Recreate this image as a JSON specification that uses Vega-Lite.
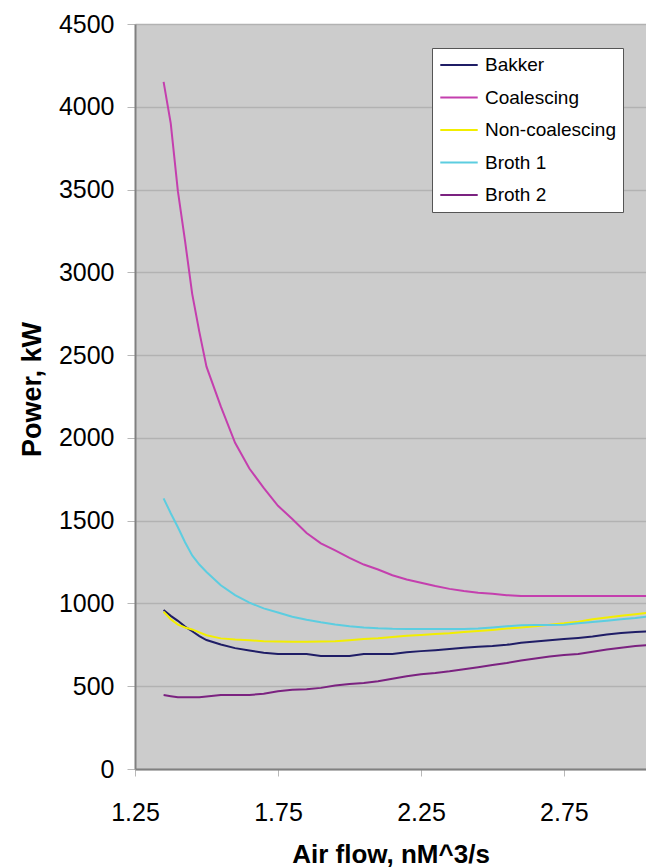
{
  "$schema": "https://vega.github.io/schema/vega-lite/v6.json",
  "width": 511,
  "height": 745,
  "autosize": {"type": "none"},
  "padding": {"left": 135, "top": 24, "right": 0, "bottom": 99},
  "background": "white",
  "config": {
    "font": "Liberation Sans",
    "view": {"fill": "#cccccc", "stroke": null}
  },
  "data": {
    "values": [
      {"x": 1.35, "Bakker": 960, "Coalescing": 4150, "Non-coalescing": 950, "Broth 1": 1635, "Broth 2": 447},
      {"x": 1.375, "Bakker": 925, "Coalescing": 3900, "Non-coalescing": 905, "Broth 1": 1545, "Broth 2": 440},
      {"x": 1.4, "Bakker": 895, "Coalescing": 3490, "Non-coalescing": 872, "Broth 1": 1460, "Broth 2": 433},
      {"x": 1.425, "Bakker": 860, "Coalescing": 3190, "Non-coalescing": 855, "Broth 1": 1370, "Broth 2": 433},
      {"x": 1.45, "Bakker": 832, "Coalescing": 2870, "Non-coalescing": 843, "Broth 1": 1290, "Broth 2": 433},
      {"x": 1.475, "Bakker": 803, "Coalescing": 2640, "Non-coalescing": 825, "Broth 1": 1235, "Broth 2": 433},
      {"x": 1.5, "Bakker": 779, "Coalescing": 2430, "Non-coalescing": 808, "Broth 1": 1190, "Broth 2": 438},
      {"x": 1.55, "Bakker": 752, "Coalescing": 2190, "Non-coalescing": 789, "Broth 1": 1110, "Broth 2": 447},
      {"x": 1.6, "Bakker": 730, "Coalescing": 1970, "Non-coalescing": 782, "Broth 1": 1050, "Broth 2": 447},
      {"x": 1.65, "Bakker": 716, "Coalescing": 1815, "Non-coalescing": 778, "Broth 1": 1005, "Broth 2": 447},
      {"x": 1.7, "Bakker": 702, "Coalescing": 1698, "Non-coalescing": 772, "Broth 1": 970, "Broth 2": 455},
      {"x": 1.75, "Bakker": 695, "Coalescing": 1590, "Non-coalescing": 770, "Broth 1": 945, "Broth 2": 470},
      {"x": 1.8, "Bakker": 695, "Coalescing": 1510, "Non-coalescing": 769, "Broth 1": 920, "Broth 2": 478},
      {"x": 1.85, "Bakker": 695, "Coalescing": 1425, "Non-coalescing": 769, "Broth 1": 902, "Broth 2": 482},
      {"x": 1.9, "Bakker": 683, "Coalescing": 1363, "Non-coalescing": 770, "Broth 1": 886, "Broth 2": 490},
      {"x": 1.95, "Bakker": 683, "Coalescing": 1320, "Non-coalescing": 772, "Broth 1": 873, "Broth 2": 505},
      {"x": 2.0, "Bakker": 683, "Coalescing": 1275, "Non-coalescing": 778, "Broth 1": 862, "Broth 2": 513},
      {"x": 2.05, "Bakker": 695, "Coalescing": 1235, "Non-coalescing": 785, "Broth 1": 855, "Broth 2": 520},
      {"x": 2.1, "Bakker": 695, "Coalescing": 1205, "Non-coalescing": 790, "Broth 1": 850, "Broth 2": 530},
      {"x": 2.15, "Bakker": 695, "Coalescing": 1170, "Non-coalescing": 797, "Broth 1": 847, "Broth 2": 545},
      {"x": 2.2, "Bakker": 705, "Coalescing": 1145, "Non-coalescing": 805, "Broth 1": 846, "Broth 2": 560},
      {"x": 2.25, "Bakker": 712, "Coalescing": 1125, "Non-coalescing": 810, "Broth 1": 846, "Broth 2": 572},
      {"x": 2.3, "Bakker": 718, "Coalescing": 1105, "Non-coalescing": 815, "Broth 1": 846, "Broth 2": 580},
      {"x": 2.35, "Bakker": 725, "Coalescing": 1088, "Non-coalescing": 820, "Broth 1": 846, "Broth 2": 590},
      {"x": 2.4, "Bakker": 732, "Coalescing": 1075, "Non-coalescing": 827, "Broth 1": 846, "Broth 2": 603},
      {"x": 2.45, "Bakker": 738, "Coalescing": 1065, "Non-coalescing": 833, "Broth 1": 848, "Broth 2": 615},
      {"x": 2.5, "Bakker": 743, "Coalescing": 1058, "Non-coalescing": 840, "Broth 1": 855, "Broth 2": 628},
      {"x": 2.55, "Bakker": 750, "Coalescing": 1050, "Non-coalescing": 848, "Broth 1": 862, "Broth 2": 640},
      {"x": 2.6, "Bakker": 762, "Coalescing": 1045, "Non-coalescing": 855, "Broth 1": 868, "Broth 2": 655},
      {"x": 2.65, "Bakker": 770, "Coalescing": 1045, "Non-coalescing": 862, "Broth 1": 870, "Broth 2": 668},
      {"x": 2.7, "Bakker": 778, "Coalescing": 1045, "Non-coalescing": 872, "Broth 1": 870, "Broth 2": 680},
      {"x": 2.75, "Bakker": 785, "Coalescing": 1045, "Non-coalescing": 880, "Broth 1": 872, "Broth 2": 688},
      {"x": 2.8, "Bakker": 792, "Coalescing": 1045, "Non-coalescing": 890, "Broth 1": 880, "Broth 2": 695},
      {"x": 2.85, "Bakker": 800, "Coalescing": 1045, "Non-coalescing": 905, "Broth 1": 888, "Broth 2": 708},
      {"x": 2.9, "Bakker": 812, "Coalescing": 1045, "Non-coalescing": 915, "Broth 1": 896, "Broth 2": 722},
      {"x": 2.95, "Bakker": 822, "Coalescing": 1045, "Non-coalescing": 925, "Broth 1": 905, "Broth 2": 733},
      {"x": 3.0, "Bakker": 828, "Coalescing": 1045, "Non-coalescing": 935, "Broth 1": 912, "Broth 2": 743},
      {"x": 3.05, "Bakker": 832, "Coalescing": 1045, "Non-coalescing": 945, "Broth 1": 922, "Broth 2": 750}
    ]
  },
  "transform": [
    {"fold": ["Bakker", "Coalescing", "Non-coalescing", "Broth 1", "Broth 2"], "as": ["series", "power"]}
  ],
  "mark": {"type": "line", "strokeWidth": 2, "clip": true},
  "encoding": {
    "x": {
      "field": "x",
      "type": "quantitative",
      "scale": {"domain": [1.25, 3.037], "nice": false, "zero": false},
      "axis": {
        "values": [1.25, 1.75, 2.25, 2.75],
        "format": ".2f",
        "grid": false,
        "domainColor": "#808080",
        "domainWidth": 2,
        "tickColor": "#b8b8b8",
        "tickSize": 7,
        "tickWidth": 1,
        "labelFontSize": 25,
        "labelColor": "black",
        "labelBaseline": "alphabetic",
        "labelPadding": 44,
        "labelFlush": false,
        "labelOverlap": false,
        "labelBound": false,
        "title": "Air flow, nM^3/s",
        "titleFontSize": 26,
        "titleFontWeight": "bold",
        "titleColor": "black",
        "titleBaseline": "alphabetic",
        "titleY": 93
      }
    },
    "y": {
      "field": "power",
      "type": "quantitative",
      "scale": {"domain": [0, 4500], "nice": false},
      "axis": {
        "values": [0, 500, 1000, 1500, 2000, 2500, 3000, 3500, 4000, 4500],
        "format": "d",
        "grid": true,
        "gridColor": "#b2b2b2",
        "gridWidth": 1.5,
        "domainColor": "#808080",
        "domainWidth": 2,
        "tickColor": "#b8b8b8",
        "tickSize": 8,
        "tickWidth": 1,
        "labelFontSize": 25,
        "labelColor": "black",
        "labelPadding": 13,
        "labelFlush": false,
        "labelOverlap": false,
        "title": "Power, kW",
        "titleFontSize": 27,
        "titleFontWeight": "bold",
        "titleColor": "black",
        "titleAngle": -90,
        "titleAlign": "center",
        "titleBaseline": "middle",
        "titleX": -103,
        "titleY": 365
      }
    },
    "color": {
      "field": "series",
      "type": "nominal",
      "sort": ["Bakker", "Coalescing", "Non-coalescing", "Broth 1", "Broth 2"],
      "scale": {
        "domain": ["Bakker", "Coalescing", "Non-coalescing", "Broth 1", "Broth 2"],
        "range": ["#1f1d66", "#c43fae", "#f2ee00", "#5ccde0", "#7b2280"]
      },
      "legend": {
        "title": null,
        "orient": "none",
        "legendX": 297,
        "legendY": 24,
        "fillColor": "white",
        "strokeColor": "#555555",
        "padding": 7,
        "symbolType": "stroke",
        "symbolSize": 1400,
        "symbolStrokeWidth": 2,
        "clipHeight": 20,
        "rowPadding": 12.5,
        "labelFontSize": 19,
        "labelColor": "black",
        "labelOffset": 6,
        "labelLimit": 300
      }
    }
  }
}
